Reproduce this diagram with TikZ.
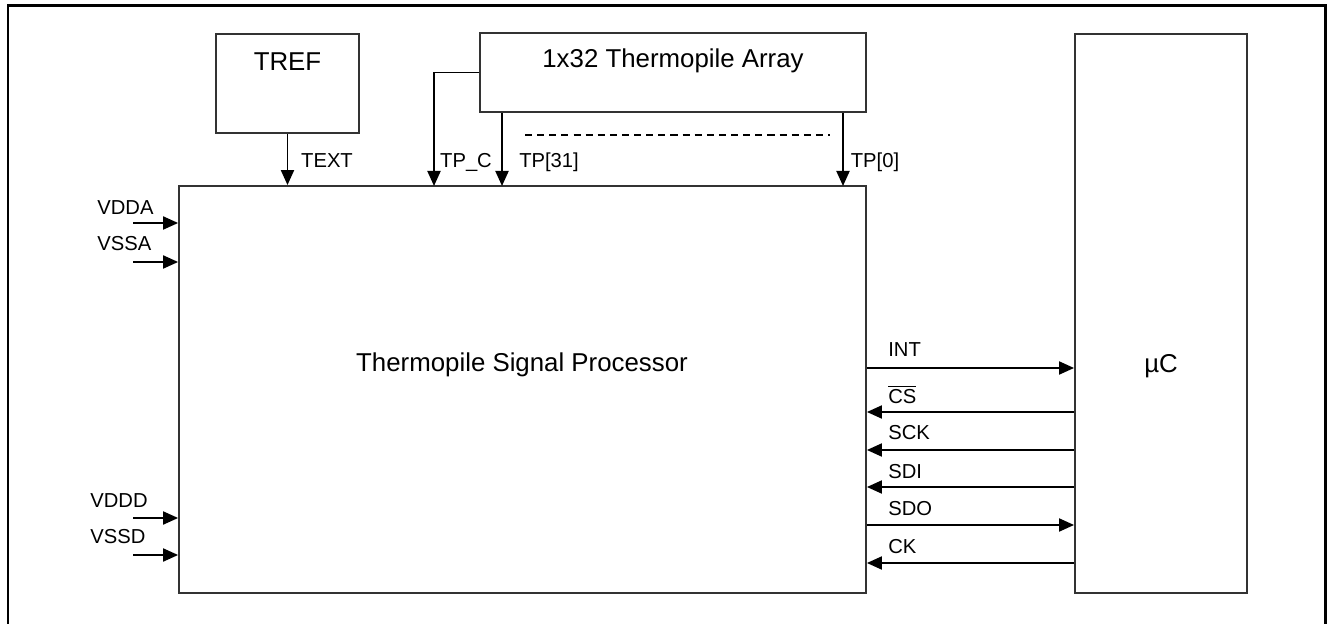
\documentclass[tikz,border=0pt]{standalone}
\usepackage{fontspec}
\setmainfont{Liberation Sans}
\usetikzlibrary{arrows.meta,positioning,calc}
\definecolor{frm}{HTML}{000000}
\definecolor{boxln}{HTML}{333333}
\definecolor{txt}{HTML}{000000}

\begin{document}
\begin{tikzpicture}[
  x=0.02cm, y=-0.02cm,
  >={Triangle[length=0.3cm,width=0.26cm]},
  blk/.style={draw=boxln, line width=1.1pt, fill=white, inner sep=0pt},
  title/.style={font=\fontsize{14.7}{17}\selectfont, text=txt, anchor=base, inner sep=0pt},
  sig/.style={font=\fontsize{11.5}{14}\selectfont, text=txt, anchor=base, inner sep=0pt},
  arr/.style={->, line width=1.1pt, color=black},
  gap/.style={line width=1pt, dash pattern=on 4pt off 2.9pt},
]

\useasboundingbox (0,0) rectangle (1327,624);
\clip (0,0) rectangle (1327,624);
\draw[frm, line width=1.7pt] (8,6) rectangle (1325,640);

% blocks
\node[blk, minimum width=2.86cm, minimum height=1.98cm] (tref) at (287.5,83.5) {};
\node[blk, minimum width=7.72cm, minimum height=1.58cm] (tpa) at (673,72.5) {};
\node[blk, minimum width=13.74cm, minimum height=8.14cm] (tsp) at (522.5,389.5) {};
\node[blk, minimum width=3.44cm, minimum height=11.18cm] (uc) at (1161,313.5) {};

\node[title] (treftxt) at (287.5,71) {TREF};
\node[title] (tpatxt) at (673,68) {1x32 Thermopile Array};
\node[title] (tsptxt) at (522,372) {Thermopile Signal Processor};
\node[title] (uctxt) at (1161,373) {µC};

% thermopile outputs
\coordinate (tpc) at (434,186);
\coordinate (tp31) at (502,186);
\coordinate (tp0) at (843,186);
\coordinate (dotsL) at (525,135);
\coordinate (dotsR) at (830,135);

\draw[arr] (tref.south) -- (tref.south |- tsp.north);
\draw[arr] (tpa.west) -| (tpc);
\draw[arr] (tp31 |- tpa.south) -- (tp31);
\draw[arr] (tp0 |- tpa.south) -- (tp0);
\draw[gap] (dotsL) -- (dotsR);

\node[sig] (textlbl) at (327,168) {TEXT};
\node[sig] (tpclbl) at (466,168) {TP\_C};
\node[sig] (tp31lbl) at (549,168) {TP[31]};
\node[sig] (tp0lbl) at (875,168) {TP[0]};

% supplies
\foreach \nm/\y/\lx/\ly in {VDDA/223/97/215, VSSA/262/97/251, VDDD/518/90/507, VSSD/555/90/543} {
  \coordinate (\nm) at (133,\y);
  \draw[arr] (\nm) -- (\nm -| tsp.west);
  \node[sig, anchor=base west] (\nm-lbl) at (\lx,\ly) {\nm};
}

% interface to uC
\foreach \id/\y/\ly/\dir/\txt in {int/368/357/->/INT, cs/412/403/<-/{$\overline{\mbox{CS}}$},
    sck/450/439/<-/SCK, sdi/487/478/<-/SDI, sdo/525/515/->/SDO, ck/563/553/<-/CK} {
  \coordinate (\id) at (970,\y);
  \draw[arr, \dir] (tsp.east |- \id) -- (uc.west |- \id);
  \node[sig, anchor=base west] (\id-lbl) at (888,\ly) {\txt};
}

\end{tikzpicture}
\end{document}
